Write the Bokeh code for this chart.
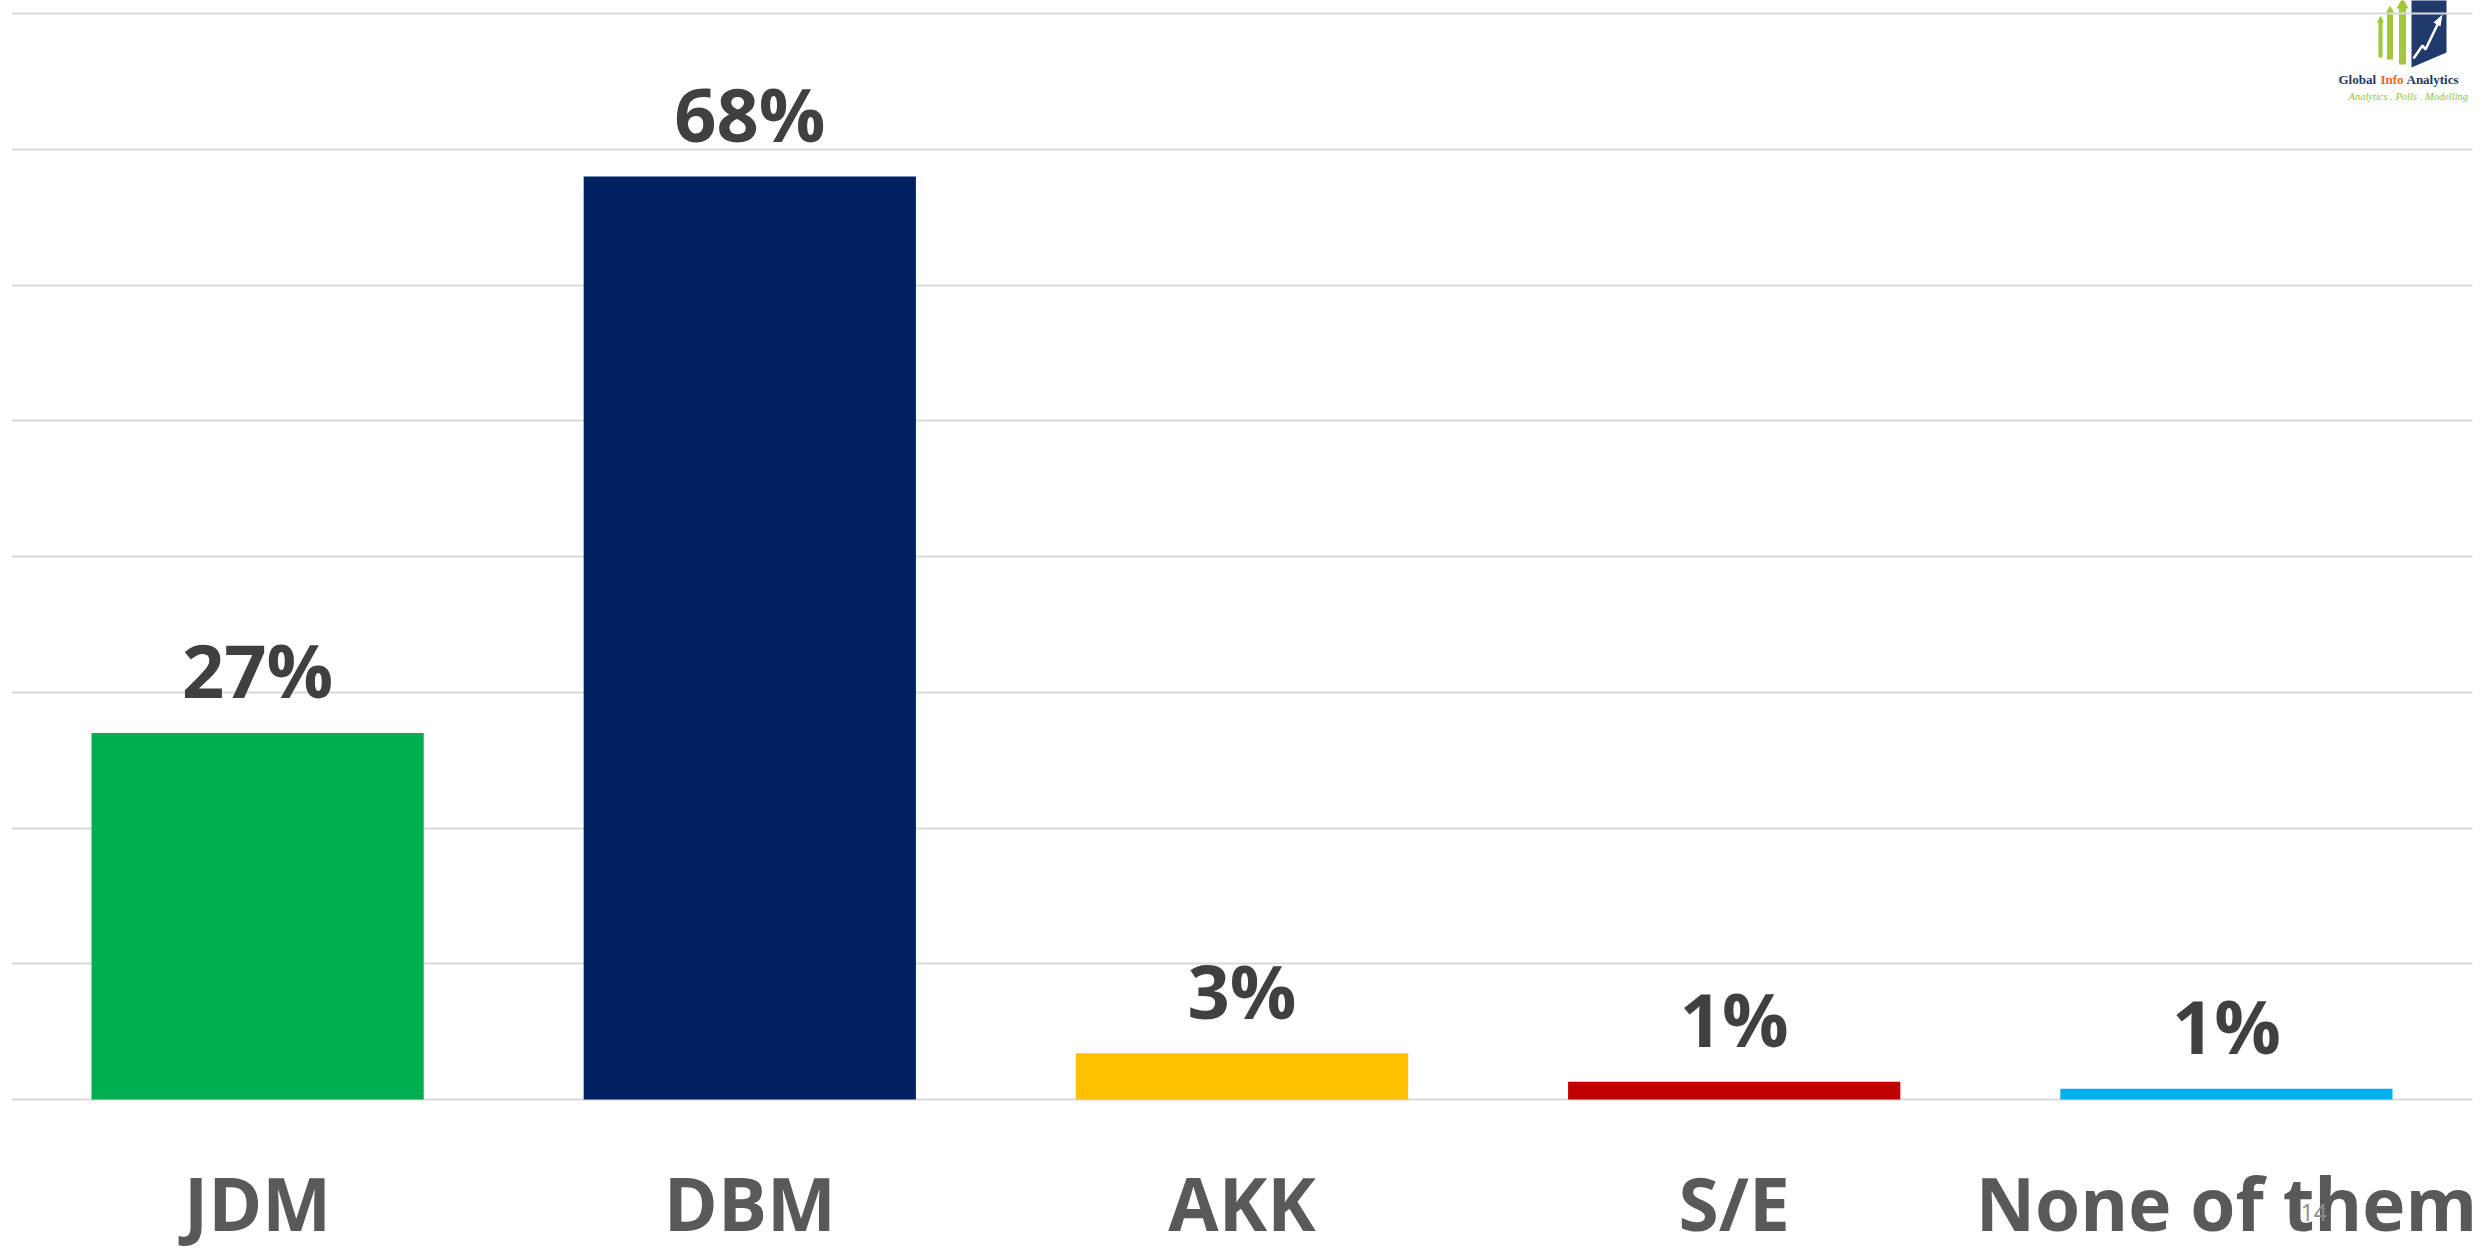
from bokeh.plotting import figure
from bokeh.models import FixedTicker, FactorRange, Range1d
from bokeh.core.properties import value
from bokeh.embed import file_html
from bokeh.resources import INLINE

# ---- data ----
categories = ["JDM", "DBM", "AKK", "S/E", "None of them"]
shares = [27.0, 68.0, 3.4, 1.3, 0.8]
labels = ["27%", "68%", "3%", "1%", "1%"]
colors = ["#00B050", "#002060", "#FFC000", "#C00000", "#00B0F0"]
grid_ticks = [0, 10, 20, 30, 40, 50, 60, 70, 80]
baseline = [0] * len(categories)

# ---- geometry ----
W, H = 2483, 1253
PX_PER_UNIT = 13.575          # vertical pixels per percentage point
BASE_FIG_Y = 1099             # baseline position from top of figure
y_end = BASE_FIG_Y / PX_PER_UNIT
y_start = y_end - H / PX_PER_UNIT

p = figure(width=W, height=H, x_range=FactorRange(*categories),
           y_range=Range1d(y_start, y_end),
           output_backend="svg", toolbar_location=None,
           x_axis_location=None, y_axis_location=None,
           min_border_left=11, min_border_right=11, min_border_top=0, min_border_bottom=0)
p.outline_line_color = None
p.background_fill_color = "white"
p.border_fill_color = "white"
p.xgrid.visible = False
p.ygrid.ticker = FixedTicker(ticks=grid_ticks)
p.ygrid.grid_line_color = "#D9D9D9"
p.ygrid.grid_line_width = 2

# helpers for decoration placement (page pixel -> data)
FRAME_LEFT = 11.0
PX_PER_CAT = 2461 / len(categories)
def dx(px):
    return (px - FRAME_LEFT) / PX_PER_CAT
def dy(py):
    return (BASE_FIG_Y - py) / PX_PER_UNIT

# ---- logo (decoration) ----
def arrow(cx, shaft, head, tip, hbase, bottom):
    xs = [cx - shaft, cx - shaft, cx - head, cx, cx + head, cx + shaft, cx + shaft]
    ys = [bottom, hbase, hbase, tip, hbase, hbase, bottom]
    return [dx(v) for v in xs], [dy(v) for v in ys]

arrows = [arrow(2380, 2, 3.5, 15, 22, 57), arrow(2389.5, 3, 4.5, 5, 13, 59),
          arrow(2402, 3.5, 6, -3, 8, 64)]
lr = p.patches(xs=[a[0] for a in arrows], ys=[a[1] for a in arrows],
               fill_color="#A2C83A", line_color=None)
lr.level = "image"
nav = p.patch(x=[dx(v) for v in [2411, 2446, 2446, 2411]],
              y=[dy(v) for v in [-5, -5, 52, 67]], fill_color="#1F3A6B", line_color=None)
nav.level = "image"
zz = p.line(x=[dx(v) for v in [2413, 2422, 2425, 2437]],
            y=[dy(v) for v in [58, 45, 49, 24]], line_color="white", line_width=2.5)
zz.level = "image"
ah = p.patch(x=[dx(v) for v in [2433, 2442, 2440]],
             y=[dy(v) for v in [22, 14, 26]], fill_color="white", line_color=None)
ah.level = "image"
for word, x0, col in [("Global", 2338, "#1F3864"), ("Info", 2380, "#F26522"),
                      ("Analytics", 2406, "#1F3864")]:
    t = p.text(x=[dx(x0)], y=[dy(83)], text=[word], y_offset=-4,
               text_font=value("Liberation Serif"),
               text_font_style="bold", text_font_size="13px", text_color=col,
               text_baseline="alphabetic", text_align="left")
    t.level = "image"
tg = p.text(x=[dx(2348)], y=[dy(99)], text=["Analytics . Polls . Modelling"], y_offset=-3,
            text_font=value("Liberation Serif"), text_font_style="italic",
            text_font_size="10.5px", text_color="#8DC63F",
            text_baseline="alphabetic", text_align="left")
tg.level = "image"

# ---- bars ----
p.vbar(x=categories, top=shares, bottom=0, width=0.675, fill_color=colors, line_color=None)

# value labels
p.text(x=categories, y=shares, text=labels, y_offset=-63,
       text_align="center", text_baseline="alphabetic",
       text_font=value("Open Sans"), text_font_style="bold",
       text_font_size="74px", text_color="#404040")

# category labels
p.text(x=categories, y=baseline, text=categories, y_offset=103,
       text_align="center", text_baseline="alphabetic",
       text_font=value("Open Sans"), text_font_style="bold",
       text_font_size="73px", text_color="#595959")

# slide number
p.text(x=[dx(2300)], y=[dy(1221)], text=["14"], y_offset=-9, text_align="left",
       text_baseline="alphabetic", text_font=value("Open Sans"),
       text_font_size="23px", text_color="#8C8C8C")

open("out.html", "w").write(file_html(p, INLINE))
